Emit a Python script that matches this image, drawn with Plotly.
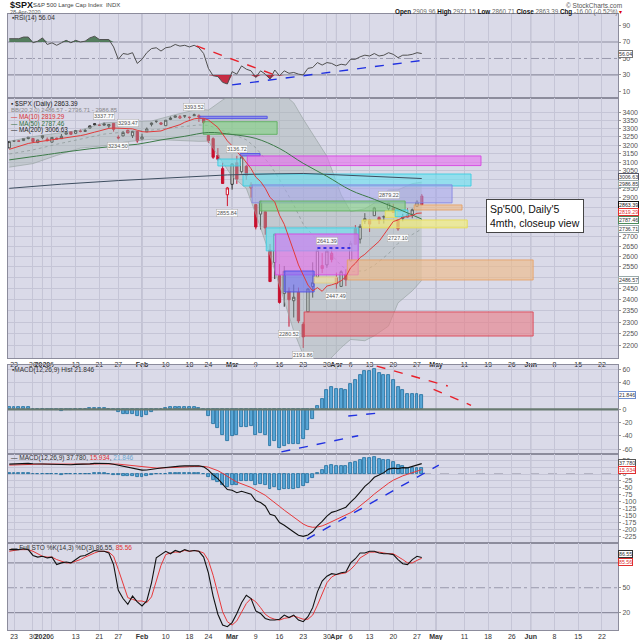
import math
import numpy as np
import plotly.graph_objects as go

# ---------------- data ----------------
dates = ["2019-12-20", "2019-12-23", "2019-12-24", "2019-12-26", "2019-12-27", "2019-12-30", "2019-12-31",
         "2020-01-02", "2020-01-03", "2020-01-06", "2020-01-07", "2020-01-08", "2020-01-09", "2020-01-10",
         "2020-01-13", "2020-01-14", "2020-01-15", "2020-01-16", "2020-01-17", "2020-01-21", "2020-01-22",
         "2020-01-23", "2020-01-24", "2020-01-27", "2020-01-28", "2020-01-29", "2020-01-30", "2020-01-31",
         "2020-02-03", "2020-02-04", "2020-02-05", "2020-02-06", "2020-02-07", "2020-02-10", "2020-02-11",
         "2020-02-12", "2020-02-13", "2020-02-14", "2020-02-18", "2020-02-19", "2020-02-20", "2020-02-21",
         "2020-02-24", "2020-02-25", "2020-02-26", "2020-02-27", "2020-02-28", "2020-03-02", "2020-03-03",
         "2020-03-04", "2020-03-05", "2020-03-06", "2020-03-09", "2020-03-10", "2020-03-11", "2020-03-12",
         "2020-03-13", "2020-03-16", "2020-03-17", "2020-03-18", "2020-03-19", "2020-03-20", "2020-03-23",
         "2020-03-24", "2020-03-25", "2020-03-26", "2020-03-27", "2020-03-30", "2020-03-31", "2020-04-01",
         "2020-04-02", "2020-04-03", "2020-04-06", "2020-04-07", "2020-04-08", "2020-04-09", "2020-04-13",
         "2020-04-14", "2020-04-15", "2020-04-16", "2020-04-17", "2020-04-20", "2020-04-21", "2020-04-22",
         "2020-04-23", "2020-04-24", "2020-04-27", "2020-04-28"]

opens = [3183.63, 3226.05, 3225.45, 3227.20, 3247.23, 3240.09, 3215.18,
         3244.67, 3226.36, 3217.55, 3241.86, 3238.59, 3266.03, 3281.81, 3271.13, 3285.35, 3282.27, 3302.97,
         3323.66, 3321.03, 3330.02, 3315.77, 3333.10, 3247.16, 3255.35, 3289.46, 3256.45, 3282.33,
         3235.66, 3280.61, 3324.91, 3344.92, 3335.54, 3318.28, 3365.87, 3370.50, 3365.90, 3378.08, 3369.04,
         3380.39, 3380.45, 3360.50, 3257.61, 3238.94, 3139.90, 3062.54, 2916.90,
         2974.28, 3096.46, 3045.75, 3075.70, 2954.20, 2863.89, 2813.48, 2825.60, 2630.86, 2569.99, 2508.59,
         2425.66, 2436.50, 2393.48, 2431.94, 2290.71, 2344.44, 2457.77, 2501.29, 2555.87, 2558.98, 2614.69,
         2498.08, 2458.54, 2514.92, 2578.28, 2738.65, 2685.00, 2776.99, 2782.46, 2805.10, 2795.64, 2799.34,
         2842.43, 2845.62, 2784.81, 2791.17, 2810.42, 2812.64, 2854.65, 2909.96]
highs = [3225.65, 3227.78, 3226.43, 3240.08, 3247.93, 3240.92, 3231.72,
         3258.14, 3246.15, 3246.84, 3244.91, 3267.07, 3275.58, 3282.99, 3288.13, 3294.25, 3298.66, 3317.11,
         3329.88, 3329.79, 3337.77, 3326.88, 3333.18, 3258.85, 3285.78, 3293.47, 3285.91, 3282.33,
         3268.44, 3306.92, 3337.58, 3347.96, 3341.42, 3352.26, 3375.63, 3381.47, 3385.09, 3380.69, 3375.01,
         3393.52, 3389.15, 3360.76, 3259.81, 3246.99, 3182.51, 3097.07, 2959.72,
         3090.96, 3136.72, 3130.97, 3083.04, 2985.93, 2863.89, 2882.59, 2825.60, 2660.95, 2711.33, 2562.98,
         2553.93, 2453.57, 2466.97, 2453.01, 2300.73, 2449.71, 2571.42, 2637.01, 2615.91, 2631.80, 2641.39,
         2522.75, 2533.22, 2538.18, 2676.85, 2756.89, 2760.75, 2818.57, 2782.46, 2851.85, 2801.88, 2806.51,
         2879.22, 2868.98, 2785.54, 2815.10, 2844.90, 2842.71, 2887.72, 2921.15]
lows = [3180.59, 3222.30, 3220.51, 3227.20, 3234.37, 3216.57, 3212.03,
        3235.53, 3222.34, 3214.64, 3232.43, 3236.67, 3263.67, 3260.86, 3268.43, 3277.19, 3280.69, 3302.82,
        3318.86, 3316.61, 3320.04, 3301.87, 3281.53, 3234.50, 3253.22, 3271.89, 3242.80, 3214.68,
        3235.66, 3280.61, 3313.75, 3334.39, 3322.12, 3317.77, 3352.72, 3369.72, 3360.52, 3366.15, 3355.61,
        3378.83, 3341.02, 3328.45, 3214.65, 3118.77, 3108.99, 2977.39, 2855.84,
        2945.19, 2976.63, 3034.38, 2999.83, 2901.54, 2734.43, 2734.00, 2707.22, 2478.86, 2492.37, 2380.94,
        2367.04, 2280.52, 2319.78, 2295.56, 2191.86, 2344.44, 2407.53, 2500.72, 2520.02, 2545.28, 2571.15,
        2447.49, 2455.79, 2459.96, 2574.57, 2657.67, 2663.30, 2762.36, 2721.17, 2805.10, 2761.54, 2764.32,
        2830.88, 2820.43, 2727.10, 2775.95, 2794.26, 2791.76, 2852.89, 2860.71]
closes = [3221.22, 3224.01, 3223.38, 3239.91, 3240.02, 3221.29, 3230.78,
          3257.85, 3234.85, 3246.28, 3237.18, 3253.05, 3274.70, 3265.35, 3288.13, 3283.15, 3289.29, 3316.81,
          3329.62, 3320.79, 3321.75, 3325.54, 3295.47, 3243.63, 3276.24, 3273.40, 3283.66, 3225.52,
          3248.92, 3297.59, 3334.69, 3345.78, 3327.71, 3352.09, 3357.75, 3379.45, 3373.94, 3380.16, 3370.29,
          3386.15, 3373.23, 3337.75, 3225.89, 3128.21, 3116.39, 2978.76, 2954.22,
          3090.23, 3003.37, 3130.12, 3023.94, 2972.37, 2746.56, 2882.23, 2741.38, 2480.64, 2711.02, 2386.13,
          2529.19, 2398.10, 2409.39, 2304.92, 2237.40, 2447.33, 2475.56, 2630.07, 2541.47, 2626.65, 2584.59,
          2470.50, 2526.90, 2488.65, 2663.68, 2659.41, 2749.98, 2789.82, 2761.63, 2846.06, 2783.36, 2799.55,
          2874.56, 2823.16, 2736.56, 2799.31, 2797.80, 2836.74, 2878.48, 2863.39]

ma10 = [3174.9, 3183.7, 3192.8, 3202.6, 3209.8, 3215.0, 3219.0, 3225.5, 3229.9, 3234.0,
        3235.6, 3238.5, 3243.6, 3246.1, 3250.9, 3257.1, 3263.0, 3268.9, 3278.4, 3285.8,
        3294.3, 3301.5, 3303.6, 3301.4, 3300.2, 3299.3, 3298.7, 3289.6, 3281.5, 3279.2,
        3280.5, 3282.5, 3285.7, 3296.6, 3304.7, 3315.3, 3324.3, 3339.8, 3351.9, 3360.8,
        3364.7, 3363.9, 3353.7, 3331.3, 3307.1, 3267.1, 3225.1, 3196.1, 3159.4, 3133.8,
        3098.9, 3062.4, 3014.4, 2989.8, 2952.3, 2902.5, 2878.2, 2807.8, 2760.4, 2687.2,
        2625.7, 2559.0, 2508.0, 2464.6, 2438.0, 2452.9, 2436.0, 2460.0, 2465.5, 2472.8,
        2484.5, 2502.9, 2545.5, 2566.7, 2594.2, 2610.2, 2632.2, 2654.1, 2674.0, 2706.9,
        2741.7, 2775.1, 2782.4, 2796.4, 2801.2, 2805.9, 2817.6, 2819.29]

ma50_day = [-1, 6, 11, 16, 21, 26, 31, 36, 41, 46, 51, 56, 61, 66, 71, 76, 81, 86]
ma50_val = [3113, 3140, 3160, 3178, 3193, 3205, 3231, 3253, 3276, 3264, 3240, 3180, 3093, 3019, 2942, 2892, 2841, 2787.46]
ma200_day = [-1, 10, 22, 35, 45, 55, 61, 66, 75, 86]
ma200_val = [2952, 2975, 2995, 3015, 3027, 3033, 3035, 3030, 3020, 3006.63]

bb_day = [-1, 4, 9, 14, 19, 24, 29, 34, 39, 41, 44, 46, 49, 51, 54, 56, 59, 61, 64, 66, 69, 71, 74, 76, 79, 81, 84, 86]
bb_mid = [3147, 3171.5, 3205.2, 3236.1, 3266.4, 3281.1, 3291.0, 3307.0, 3322.6, 3319.7, 3291.2, 3268.0, 3231.8,
          3184.0, 3084.8, 3001.9, 2862.3, 2761.2, 2677.7, 2633.9, 2555.1, 2526.8, 2531.5, 2557.1, 2613.1, 2664.0,
          2708.0, 2736.71]
bb_upper = [3223, 3251.5, 3271.2, 3290.1, 3336.4, 3341.1, 3347.0, 3387.0, 3422.6, 3415.7, 3481.2, 3518.0, 3511.8,
            3554.0, 3564.8, 3541.9, 3462.3, 3359.2, 3217.7, 3133.9, 2917.1, 2826.8, 2841.5, 2872.0, 2943.1, 2944.0,
            2978.0, 2986.85]
bb_lower = [3071, 3091.5, 3139.2, 3182.1, 3196.4, 3221.1, 3235.0, 3227.0, 3222.6, 3223.7, 3101.2, 3018.0, 2951.8,
            2814.0, 2604.8, 2461.9, 2262.3, 2163.2, 2137.7, 2133.9, 2193.1, 2226.8, 2221.5, 2242.0, 2283.1, 2384.0,
            2438.0, 2486.57]

rsi = [74, 74, 74, 76, 76, 69, 71, 75, 67, 69,
       66, 69, 72, 69, 72, 70, 71, 75, 77, 73,
       73, 73, 64, 49, 56, 55, 57, 44, 49, 57,
       62, 63, 59, 63, 64, 67, 65, 66, 64, 66,
       63, 56, 38, 29, 28, 21, 19, 34, 31, 41,
       37, 35, 27, 35, 31, 25, 36, 29, 35, 32,
       33, 31, 30, 38, 39, 45, 42, 45, 44, 41,
       43, 42, 49, 49, 52, 54, 53, 56, 53, 54,
       57, 55, 51, 54, 54, 55, 57, 56.04]

macd_line = [35.8, 36.8, 37.45, 38.3, 38.65, 37.15, 36.6, 37.1, 35.9, 35.6,
             34.2, 33.45, 34.0, 33.75, 35.0, 35.2, 35.5, 36.9, 38.5, 39.1,
             39.1, 38.4, 35.25, 31.6, 27.4, 24.55, 22.6, 18.6, 14.2, 14.6,
             17.7, 20.4, 22.1, 23.65, 25.9, 27.65, 28.6, 29.55, 30.1, 30.4,
             29.9, 26.0,
             14.1, -3.05, -16.4, -36.3, -56.4, -58.8, -67.6, -62.7, -69.4, -73.3,
             -97.0, -103.6, -115.7, -145.6, -150.7, -175.6, -185.9, -196.8, -209.9, -222.0,
             -226.0, -220.9, -208.4, -187.5, -172.0, -152.3, -138.9, -134.2, -126.6, -120.2,
             -101.5, -85.6, -65.5, -44.5, -30.1, -11.9, -3.75, 5.0, 17.75, 21.25,
             19.65, 23.05, 22.2, 27.45, 33.1, 37.78]
macd_signal = [32.3, 33.2, 34.05, 34.9, 35.65, 35.95, 36.08, 36.28, 36.2, 36.08,
               35.7, 35.25, 35.0, 34.75, 34.8, 34.88, 35.0, 35.38, 36.0, 36.63,
               37.13, 37.38, 36.95, 35.88, 34.18, 32.25, 30.33, 27.98, 25.23, 23.1,
               22.03, 21.7, 21.78, 22.15, 22.9, 23.85, 24.8, 25.75, 26.63, 27.38,
               27.88, 27.5,
               24.83, 19.25, 12.13, 2.45, -9.33, -19.23, -28.9, -35.65, -42.4, -48.58,
               -58.25, -67.33, -77.0, -90.73, -102.73, -117.3, -131.03, -144.18, -157.33, -170.25,
               -181.4, -189.3, -193.13, -192.0, -188.0, -180.85, -172.45, -164.8, -157.15, -149.75,
               -140.1, -129.2, -116.45, -102.05, -87.65, -72.5, -58.75, -46.0, -33.25, -22.35,
               -13.95, -6.55, -0.8, 4.85, 10.5, 15.934]
macd_hist = [3.5, 3.6, 3.4, 3.4, 3.0, 1.2, 0.5, 0.8, -0.3, -0.5,
             -1.5, -1.8, -1.0, -1.0, 0.2, 0.3, 0.5, 1.5, 2.5, 2.5,
             2.0, 1.0, -1.7, -4.3, -6.8, -7.7, -7.7, -9.4, -11.0, -8.5,
             -4.3, -1.3, 0.3, 1.5, 3.0, 3.8, 3.8, 3.8, 3.5, 3.0,
             2.0, -1.5,
             -10.7, -22.3, -28.5, -38.7, -47.1, -39.6, -38.7, -27.0, -27.0, -24.7,
             -38.7, -36.3, -38.7, -54.9, -48.0, -58.3, -54.9, -52.6, -52.6, -51.7,
             -44.6, -31.6, -15.3, 4.5, 16.0, 28.6, 33.6, 30.6, 30.6, 29.6,
             38.6, 43.6, 51.0, 57.6, 57.6, 60.6, 55.0, 51.0, 51.0, 43.6,
             33.6, 29.6, 23.0, 22.6, 22.6, 21.846]

sto_k = [96, 96, 96, 97, 96, 89, 87, 88, 86, 87,
         78, 80, 81, 80, 84, 88, 89, 92, 95, 94,
         94, 92, 78, 47, 37, 30, 40, 33, 28, 34,
         56, 86, 90, 94, 91, 95, 93, 96, 94, 95,
         94, 87, 68, 40, 18, 5, 3, 8, 19, 32,
         41, 37, 22, 19, 13, 11, 11, 12, 17, 14,
         17, 11, 9, 15, 26, 45, 58, 64, 67, 66,
         68, 69, 80, 85, 92, 92, 94, 94, 92, 91,
         91, 90, 84, 79, 78, 84, 88, 86.55]
sto_d = [94, 95, 96, 96, 96, 94, 91, 88, 87, 87,
         84, 82, 80, 80, 82, 84, 87, 90, 92, 94,
         94, 93, 88, 72, 54, 38, 36, 34, 34, 32,
         39, 59, 77, 90, 92, 93, 93, 95, 94, 95,
         94, 92, 83, 65, 42, 21, 9, 5, 10, 20,
         31, 37, 33, 26, 18, 14, 12, 11, 13, 14,
         16, 14, 12, 12, 17, 29, 43, 56, 63, 66,
         67, 68, 72, 78, 86, 90, 93, 93, 93, 92,
         91, 91, 88, 84, 80, 80, 83, 85.56]

# trading-day positions of the date labels (0 = 23 Dec 2019), future days included
tick_pos = [0, 4, 6, 8, 13, 18, 22, 27, 32, 37, 41, 46, 51, 56, 61, 66, 68, 71, 75, 80, 85,
            89, 95, 100, 105, 109, 114, 119, 124]
tick_text = ["23", "30", "<b>2020</b>", "6", "13", "21", "27", "<b>Feb</b>", "10", "18", "24", "<b>Mar</b>",
             "9", "16", "23", "30", "<b>Apr</b>", "6", "13", "20", "27", "<b>May</b>", "11", "18", "26",
             "<b>Jun</b>", "8", "15", "22"]
month_pos = [6, 27, 46, 68, 89, 109]

# price-axis ticks (labels hidden where value boxes cover them in the original)
price_ticks = list(range(2200, 3401, 50))
price_hidden = [3000, 2850, 2800, 2750, 2500]

# drawn zones on the price panel: day start, day end, low, high, colour
zone_x0 = [39.2, 39.9, 43.0, 47.7, 49.2, 48.3, 50.2, 51.9, 84.4, 73.4, 78.3, 80.4, 53.2, 55.1, 57.0, 70.3, 61.2, 63.3]
zone_x1 = [53.4, 55.5, 47.7, 51.9, 98.5, 96.4, 92.4, 82.5, 94.5, 95.6, 80.8, 83.1, 72.6, 72.6, 63.3, 109.5, 109.5, 68.1]
zone_lo = [3362, 3265, 3078, 3136, 3080, 2965, 2873, 2830, 2835, 2742, 2795, 2800, 2627, 2512, 2433, 2488, 2241, 2474]
zone_hi = [3377, 3343, 3118, 3150, 3136, 3032, 2971, 2883, 2862, 2783, 2830, 2835, 2742, 2711, 2530, 2583, 2344, 2502]
zone_kind = ["blue", "green", "cyan", "blue", "magenta", "cyan", "lavender", "green", "orange", "yellow", "yellow",
             "cyan", "cyan", "magenta", "blue", "orange", "red", "beige"]

# hand-drawn trend lines: (panel, x0, x1, y0, y1, colour)
trend_panel = ["rsi", "rsi", "hist", "hist", "hist", "hist", "macd"]
trend_x0 = [38.5, 46.0, 76.5, 88.5, 70.5, 56.4, 61.8]
trend_x1 = [56.3, 86.9, 91.5, 96.4, 76.4, 72.6, 89.6]
trend_y0 = [65.2, 17.9, 65.0, 30.0, -10.0, -64.0, -236.0]
trend_y1 = [27.2, 48.2, 35.0, 6.0, -6.0, -39.7, 32.5]
trend_col = ["#e8202a", "#2030e0", "#e8202a", "#e8202a", "#2030e0", "#2030e0", "#2030e0"]

# price point labels: day, price, above?
plabel_day = [19, 24, 38, 22, 47, 45, 58, 61, 66, 68, 79, 81]
plabel_val = [3337.77, 3293.47, 3393.52, 3234.50, 3136.72, 2855.84, 2280.52, 2191.86, 2641.39, 2447.49, 2879.22, 2727.10]
plabel_up = [True, True, True, False, True, False, False, False, True, False, True, False]

# ---------------- layout helpers ----------------
W, H = 640, 640
ML, MR, MT, MB = 8, 22, 14, 10
PH = H - MT - MB
PW = W - ML - MR
FONT = "Liberation Sans, Arial, sans-serif"


def dom(top_px, bot_px):
    return [(H - MB - bot_px) / PH, (H - MB - top_px) / PH]


def yp(px):
    return (H - MB - px) / PH


def xp(px):
    return (px - ML) / PW


x_days = [i - 1 for i in range(len(dates))]
XR = [-1.27, 127.4]
BG = "#dadae8"
GRID = "#c5c5d6"
BORDER = "#8c8c9c"

fig = go.Figure()

# ---------------- RSI ----------------
rsi_a = np.array(rsi, dtype=float)
n = len(rsi)
fig.add_trace(go.Scatter(x=x_days, y=[70] * n, mode="lines", line=dict(width=0), xaxis="x", yaxis="y",
                         hoverinfo="skip", showlegend=False))
fig.add_trace(go.Scatter(x=x_days, y=np.maximum(rsi_a, 70), mode="lines", line=dict(width=0), fill="tonexty",
                         fillcolor="rgba(70,115,80,0.9)", xaxis="x", yaxis="y", hoverinfo="skip", showlegend=False))
fig.add_trace(go.Scatter(x=x_days, y=[30] * n, mode="lines", line=dict(width=0), xaxis="x", yaxis="y",
                         hoverinfo="skip", showlegend=False))
fig.add_trace(go.Scatter(x=x_days, y=np.minimum(rsi_a, 30), mode="lines", line=dict(width=0), fill="tonexty",
                         fillcolor="rgba(195,25,50,0.9)", xaxis="x", yaxis="y", hoverinfo="skip", showlegend=False))
fig.add_trace(go.Scatter(x=x_days, y=rsi, mode="lines", line=dict(color="#505050", width=1), xaxis="x", yaxis="y",
                         showlegend=False))

# ---------------- price ----------------
fig.add_trace(go.Scatter(x=bb_day, y=bb_upper, mode="lines", line=dict(color="rgba(150,160,160,0.8)", width=0.8),
                         xaxis="x2", yaxis="y2", showlegend=False, hoverinfo="skip"))
fig.add_trace(go.Scatter(x=bb_day, y=bb_lower, mode="lines", line=dict(color="rgba(150,160,160,0.8)", width=0.8),
                         fill="tonexty", fillcolor="rgba(165,178,175,0.42)", xaxis="x2", yaxis="y2",
                         showlegend=False, hoverinfo="skip"))
fig.add_trace(go.Scatter(x=bb_day, y=bb_mid, mode="lines", line=dict(color="rgba(140,150,150,0.9)", width=0.8, dash="dot"),
                         xaxis="x2", yaxis="y2", showlegend=False, hoverinfo="skip"))

zone_fill = {"blue": "rgba(110,110,245,0.6)", "green": "rgba(130,210,130,0.6)", "cyan": "rgba(105,225,240,0.62)",
             "magenta": "rgba(232,110,238,0.6)", "lavender": "rgba(165,165,235,0.55)",
             "orange": "rgba(240,185,130,0.6)", "yellow": "rgba(245,240,115,0.65)", "red": "rgba(235,120,130,0.58)",
             "beige": "rgba(240,225,160,0.65)"}
zone_line = {"blue": "rgba(80,80,230,0.9)", "green": "rgba(90,175,90,0.85)", "cyan": "rgba(60,205,225,0.9)",
             "magenta": "rgba(215,70,225,0.9)", "lavender": "rgba(130,130,225,0.85)",
             "orange": "rgba(230,160,100,0.85)", "yellow": "rgba(230,220,80,0.85)", "red": "rgba(220,70,85,0.9)",
             "beige": "rgba(225,205,130,0.85)"}
for a, b, lo, hi, k in zip(zone_x0, zone_x1, zone_lo, zone_hi, zone_kind):
    fig.add_trace(go.Scatter(x=[a, b, b, a, a], y=[lo, lo, hi, hi, lo], mode="lines", fill="toself",
                             fillcolor=zone_fill[k], line=dict(color=zone_line[k], width=1),
                             xaxis="x2", yaxis="y2", showlegend=False, hoverinfo="skip"))

fig.add_trace(go.Scatter(x=ma200_day, y=ma200_val, mode="lines", line=dict(color="#3e4e60", width=1),
                         xaxis="x2", yaxis="y2", showlegend=False))
fig.add_trace(go.Scatter(x=ma50_day, y=ma50_val, mode="lines", line=dict(color="#3c7a48", width=1, shape="spline"),
                         xaxis="x2", yaxis="y2", showlegend=False))
fig.add_trace(go.Scatter(x=x_days, y=ma10, mode="lines", line=dict(color="#e23a3a", width=1),
                         xaxis="x2", yaxis="y2", showlegend=False))

# dotted level at the 31-Mar high
fig.add_trace(go.Scatter(x=[64, 71], y=[2641.39, 2641.39], mode="lines", line=dict(color="#1010e0", width=1.5, dash="dot"),
                         xaxis="x2", yaxis="y2", showlegend=False, hoverinfo="skip"))

prev_close = [closes[0]] + closes[:-1]
groups = {
    "hollow_black": ("#2a2a2a", "rgba(255,255,255,0.95)"),
    "hollow_red": ("#d0142c", "rgba(255,255,255,0.95)"),
    "filled_red": ("#c8102e", "#c8102e"),
    "filled_black": ("#2a2a2a", "#2a2a2a"),
}
members = {k: [] for k in groups}
for i, (o, c, pc) in enumerate(zip(opens, closes, prev_close)):
    hollow = c >= o
    down = c < pc
    key = ("hollow_" if hollow else "filled_") + ("red" if down else "black")
    members[key].append(i)
for key, (lc, fc) in groups.items():
    idx = members[key]
    if not idx:
        continue
    fig.add_trace(go.Candlestick(
        x=[x_days[i] for i in idx], open=[opens[i] for i in idx], high=[highs[i] for i in idx],
        low=[lows[i] for i in idx], close=[closes[i] for i in idx],
        increasing=dict(line=dict(color=lc, width=1), fillcolor=fc),
        decreasing=dict(line=dict(color=lc, width=1), fillcolor=fc),
        whiskerwidth=0, xaxis="x2", yaxis="y2", showlegend=False))

# ---------------- MACD histogram panel ----------------
bar_style = dict(color="#58a6d6", line=dict(color="#1d6c9c", width=0.8))
fig.add_trace(go.Bar(x=x_days, y=macd_hist, marker=bar_style, width=0.62, xaxis="x3", yaxis="y3", showlegend=False))

# ---------------- MACD panel ----------------
fig.add_trace(go.Bar(x=x_days, y=macd_hist, marker=bar_style, width=0.62, xaxis="x4", yaxis="y4", showlegend=False))
fig.add_trace(go.Scatter(x=x_days, y=macd_signal, mode="lines", line=dict(color="#e8383a", width=1),
                         xaxis="x4", yaxis="y4", showlegend=False))
fig.add_trace(go.Scatter(x=x_days, y=macd_line, mode="lines", line=dict(color="#111111", width=1.1),
                         xaxis="x4", yaxis="y4", showlegend=False))

# ---------------- STO panel ----------------
fig.add_trace(go.Scatter(x=x_days, y=sto_d, mode="lines", line=dict(color="#e8383a", width=1),
                         xaxis="x5", yaxis="y5", showlegend=False))
fig.add_trace(go.Scatter(x=x_days, y=sto_k, mode="lines", line=dict(color="#111111", width=1.1),
                         xaxis="x5", yaxis="y5", showlegend=False))

# trend lines
panel_axes = {"rsi": ("x", "y"), "hist": ("x3", "y3"), "macd": ("x4", "y4")}
for p, a, b, c, d, col in zip(trend_panel, trend_x0, trend_x1, trend_y0, trend_y1, trend_col):
    xa, ya = panel_axes[p]
    fig.add_trace(go.Scatter(x=[a, b], y=[c, d], mode="lines", line=dict(color=col, width=1.4, dash="dash"),
                             xaxis=xa, yaxis=ya, showlegend=False, hoverinfo="skip"))

# ---------------- axes ----------------
common_x = dict(range=XR, tickvals=tick_pos, ticktext=tick_text, showgrid=True, gridcolor=GRID, gridwidth=1,
                zeroline=False, showline=True, mirror=True, linecolor=BORDER, linewidth=1, ticks="",
                showticklabels=False, fixedrange=True, tickangle=0, automargin=False)
common_y = dict(side="right", showline=True, mirror=True, linecolor=BORDER, linewidth=1, zeroline=False,
                ticks="outside", ticklen=2, tickcolor="#999", tickfont=dict(size=7, color="#555", family=FONT),
                fixedrange=True, automargin=False)
date_font = dict(size=7, color="#333", family=FONT)

layout_axes = dict(
    xaxis=dict(common_x, anchor="y", domain=[0, 1]),
    xaxis2=dict(common_x, anchor="y2", domain=[0, 1], showticklabels=True, tickfont=date_font,
                rangeslider=dict(visible=False)),
    xaxis3=dict(common_x, anchor="y3", domain=[0, 1]),
    xaxis4=dict(common_x, anchor="y4", domain=[0, 1]),
    xaxis5=dict(common_x, anchor="y5", domain=[0, 1], showticklabels=True, tickfont=date_font),
    yaxis=dict(common_y, anchor="x", domain=dom(14, 98), range=[2, 104], tickvals=[10, 30, 50, 70, 90],
               showgrid=False),
    yaxis2=dict(common_y, anchor="x2", domain=dom(98, 358), type="log",
                range=[math.log10(2151), math.log10(3494)], tickvals=price_ticks,
                ticktext=["" if v in price_hidden else str(v) for v in price_ticks], showgrid=True, gridcolor=GRID),
    yaxis3=dict(common_y, anchor="x3", domain=dom(365, 454), range=[-67.2, 66.6],
                tickvals=[-60, -40, -20, 0, 20, 40, 60], ticktext=["-60", "-40", "-20", "0", "", "40", "60"],
                showgrid=True, gridcolor=GRID),
    yaxis4=dict(common_y, anchor="x4", domain=dom(454, 543), range=[-250, 72.6],
                tickvals=[50, 25, 0, -25, -50, -75, -100, -125, -150, -175, -200, -225],
                ticktext=["50", "", "0", "-25", "-50", "-75", "-100", "-125", "-150", "-175", "-200", "-225"],
                showgrid=True, gridcolor=GRID),
    yaxis5=dict(common_y, anchor="x5", domain=dom(543, 630), range=[-1, 104], tickvals=[20, 50, 80],
                showgrid=False),
)

shapes = []
for yv in (70, 30):
    shapes.append(dict(type="line", xref="x domain", x0=0, x1=1, yref="y", y0=yv, y1=yv,
                       line=dict(color="#8e8ea0", width=1.2), layer="below"))
shapes.append(dict(type="line", xref="x domain", x0=0, x1=1, yref="y", y0=50, y1=50,
                   line=dict(color="#9a9aac", width=1, dash="dashdot"), layer="below"))
for yv in (80, 20):
    shapes.append(dict(type="line", xref="x5 domain", x0=0, x1=1, yref="y5", y0=yv, y1=yv,
                       line=dict(color="#8e8ea0", width=1.2), layer="below"))
shapes.append(dict(type="line", xref="x5 domain", x0=0, x1=1, yref="y5", y0=50, y1=50,
                   line=dict(color="#9a9aac", width=1, dash="dashdot"), layer="below"))
shapes.append(dict(type="line", xref="x3 domain", x0=0, x1=1, yref="y3", y0=0, y1=0,
                   line=dict(color="#687a70", width=2.2), layer="above"))
shapes.append(dict(type="line", xref="x4 domain", x0=0, x1=1, yref="y4", y0=0, y1=0,
                   line=dict(color="#8a8a9a", width=1, dash="dash"), layer="below"))
for ax_x, ax_y in (("x", "y"), ("x2", "y2"), ("x3", "y3"), ("x4", "y4"), ("x5", "y5")):
    for mp in month_pos:
        shapes.append(dict(type="line", xref=ax_x, x0=mp, x1=mp, yref=ax_y + " domain", y0=0, y1=1,
                           line=dict(color="#a9a9bd", width=1), layer="below"))

annotations = []


def txt(text, x_px, y_px, size=7, color="#333", xanchor="left", **kw):
    annotations.append(dict(text=text, x=xp(x_px), y=yp(y_px), xref="paper", yref="paper", xanchor=xanchor,
                            yanchor="middle", showarrow=False, font=dict(size=size, color=color, family=FONT), **kw))


# header
txt("<b>$SPX</b>", 8, 5, size=9, color="#111")
txt("S&P 500 Large Cap Index  INDX", 31, 5, size=6, color="#444")
txt("28-Apr-2020", 8, 11.5, size=5.5, color="#555")
txt("© StockCharts.com", 624, 5, size=6.5, color="#555", xanchor="right")
txt("<b>Open</b> <span style='color:#666'>2909.96</span> <b>High</b> <span style='color:#666'>2921.15</span> "
    "<b>Low</b> <span style='color:#666'>2860.71</span> <b>Close</b> <span style='color:#666'>2863.39</span> "
    "<b>Chg</b> <span style='color:#666'>-16.00 (-0.52%)</span> <span style='color:#d00'>▾</span>",
    624, 11.5, size=6.3, color="#111", xanchor="right")

# panel legends
txt("▪RSI(14) 56.04", 10, 18.5, size=6.5, color="#333")
txt("▪ $SPX (Daily) 2863.39", 9, 104, size=6.5, color="#222")
txt("BB(20,2.0) 2486.57 - 2736.71 - 2986.85", 9, 110.5, size=6, color="#888")
txt("— MA(10) 2819.29", 9, 117, size=6.3, color="#d83030")
txt("— MA(50) 2787.46", 9, 123.5, size=6.3, color="#2f6f3a")
txt("— MA(200) 3006.63", 9, 130, size=6.3, color="#222")
txt("▪MACD(12,26,9) Hist 21.846", 10, 369.5, size=6.5, color="#333")
txt("— MACD(12,26,9) 37.780, <span style='color:#e03030'>15.934</span>, <span style='color:#6fa8d0'>21.846</span>",
    9, 458, size=6.5, color="#333")
txt("— Full STO %K(14,3) %D(3) 86.55, <span style='color:#e03030'>85.56</span>", 9, 548, size=6.5, color="#333")

# note box
annotations.append(dict(text="Sp'500, Daily'5<br>4mth, closeup view", x=xp(486), y=yp(199), xref="paper",
                        yref="paper", xanchor="left", yanchor="top", showarrow=False, align="left",
                        font=dict(size=10.5, color="#111", family=FONT), bgcolor="white", bordercolor="#444",
                        borderwidth=1, borderpad=3))

# price point labels
for d, v, up in zip(plabel_day, plabel_val, plabel_up):
    annotations.append(dict(text=f"{v:.2f}", x=d, y=math.log10(v), xref="x2", yref="y2", showarrow=False,
                            yanchor="bottom" if up else "top", yshift=3 if up else -3,
                            font=dict(size=5.5, color="#555", family=FONT), bgcolor="rgba(255,255,255,0.9)",
                            bordercolor="#aaa", borderwidth=0.5, borderpad=0.5))


def rbox(val, yref, yval, border, color="#333", fmt="{:.2f}", yshift=0):
    annotations.append(dict(text=fmt.format(val), x=1, y=yval, xref="paper", yref=yref, xanchor="left",
                            xshift=0, yshift=yshift, showarrow=False, font=dict(size=5.3, color=color, family=FONT),
                            bgcolor="white", bordercolor=border, borderwidth=1, borderpad=0))


rbox(56.04, "y", 56.04, "#777")
rbox(3006.63, "y2", math.log10(3006.63), "#556", yshift=2)
rbox(2986.85, "y2", math.log10(2986.85), "#9aa", yshift=-2)
rbox(2863.39, "y2", math.log10(2863.39), "#111", "#111")
rbox(2819.29, "y2", math.log10(2819.29), "#e03030", "#e03030", yshift=1)
rbox(2787.46, "y2", math.log10(2787.46), "#4a8a5a", yshift=-1)
rbox(2736.71, "y2", math.log10(2736.71), "#9aa")
rbox(2486.57, "y2", math.log10(2486.57), "#9aa")
rbox(21.846, "y3", 21.846, "#6f8fcf", fmt="{:.3f}")
rbox(37.780, "y4", 40.5, "#555", fmt="{:.3f}")
rbox(15.934, "y4", 13.0, "#e03030", "#e03030", fmt="{:.3f}")
rbox(85.56, "y5", 81.0, "#e03030", "#e03030")
rbox(86.55, "y5", 91.0, "#333")

fig.update_layout(
    width=W, height=H, margin=dict(l=ML, r=MR, t=MT, b=MB, autoexpand=False), paper_bgcolor="white",
    plot_bgcolor=BG, showlegend=False, bargap=0, boxgap=0.32, shapes=shapes, annotations=annotations,
    font=dict(family=FONT, size=7, color="#333"), **layout_axes)

fig.write_html("out.html", config={"displayModeBar": False},
               post_script="document.body.style.margin='0px';document.documentElement.style.overflow='hidden';")
